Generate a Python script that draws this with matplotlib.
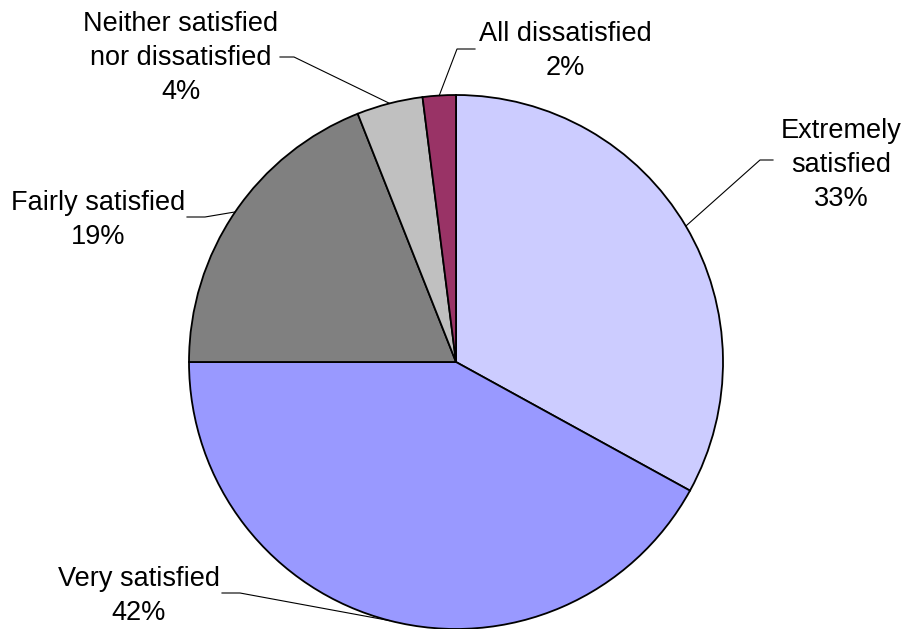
import matplotlib.pyplot as plt
import numpy as np

plt.rcParams['font.family'] = ['Liberation Sans', 'DejaVu Sans']

# survey results, clockwise from 12 o'clock
labels = ['Extremely\nsatisfied', 'Very satisfied', 'Fairly satisfied',
          'Neither satisfied\nnor dissatisfied', 'All dissatisfied']
shares = [33, 42, 19, 4, 2]
colors = ['#CCCCFF', '#9999FF', '#808080', '#C0C0C0', '#993366']

W, H = 904, 629
cx, cy, r = 456, 267, 267

# label centre and start/end of the short horizontal leader stub (pixels, y up)
text_pos = [(841, 464), (139, 33), (98, 409), (181, 571), (565, 578)]
stub = [((773, 469), (760, 469)),
        ((222, 36), (240, 36)),
        ((187, 412), (205, 412)),
        ((280, 572), (294, 572)),
        ((475, 580), (457, 580))]

fig = plt.figure(figsize=(W / 100, H / 100), dpi=100)
ax = fig.add_axes([0, 0, 1, 1])

wedges, _ = ax.pie(shares, colors=colors, startangle=90, counterclock=False,
                   center=(cx, cy), radius=r, frame=True,
                   wedgeprops=dict(edgecolor='black', linewidth=1.3))
ax.set_xlim(0, W)
ax.set_ylim(0, H)
ax.set_aspect('equal')
ax.axis('off')

for w, lab, val, (tx, ty), (s0, s1) in zip(wedges, labels, shares, text_pos, stub):
    mid = np.deg2rad((w.theta1 + w.theta2) / 2)
    ex, ey = cx + r * np.cos(mid), cy + r * np.sin(mid)
    ax.plot([s0[0], s1[0], ex], [s0[1], s1[1], ey], color='black', lw=0.8)
    ax.text(tx, ty, f'{lab}\n{val}%', ha='center', va='center',
            fontsize=19.5, linespacing=1.38)

fig.savefig('out.png', dpi=100)
